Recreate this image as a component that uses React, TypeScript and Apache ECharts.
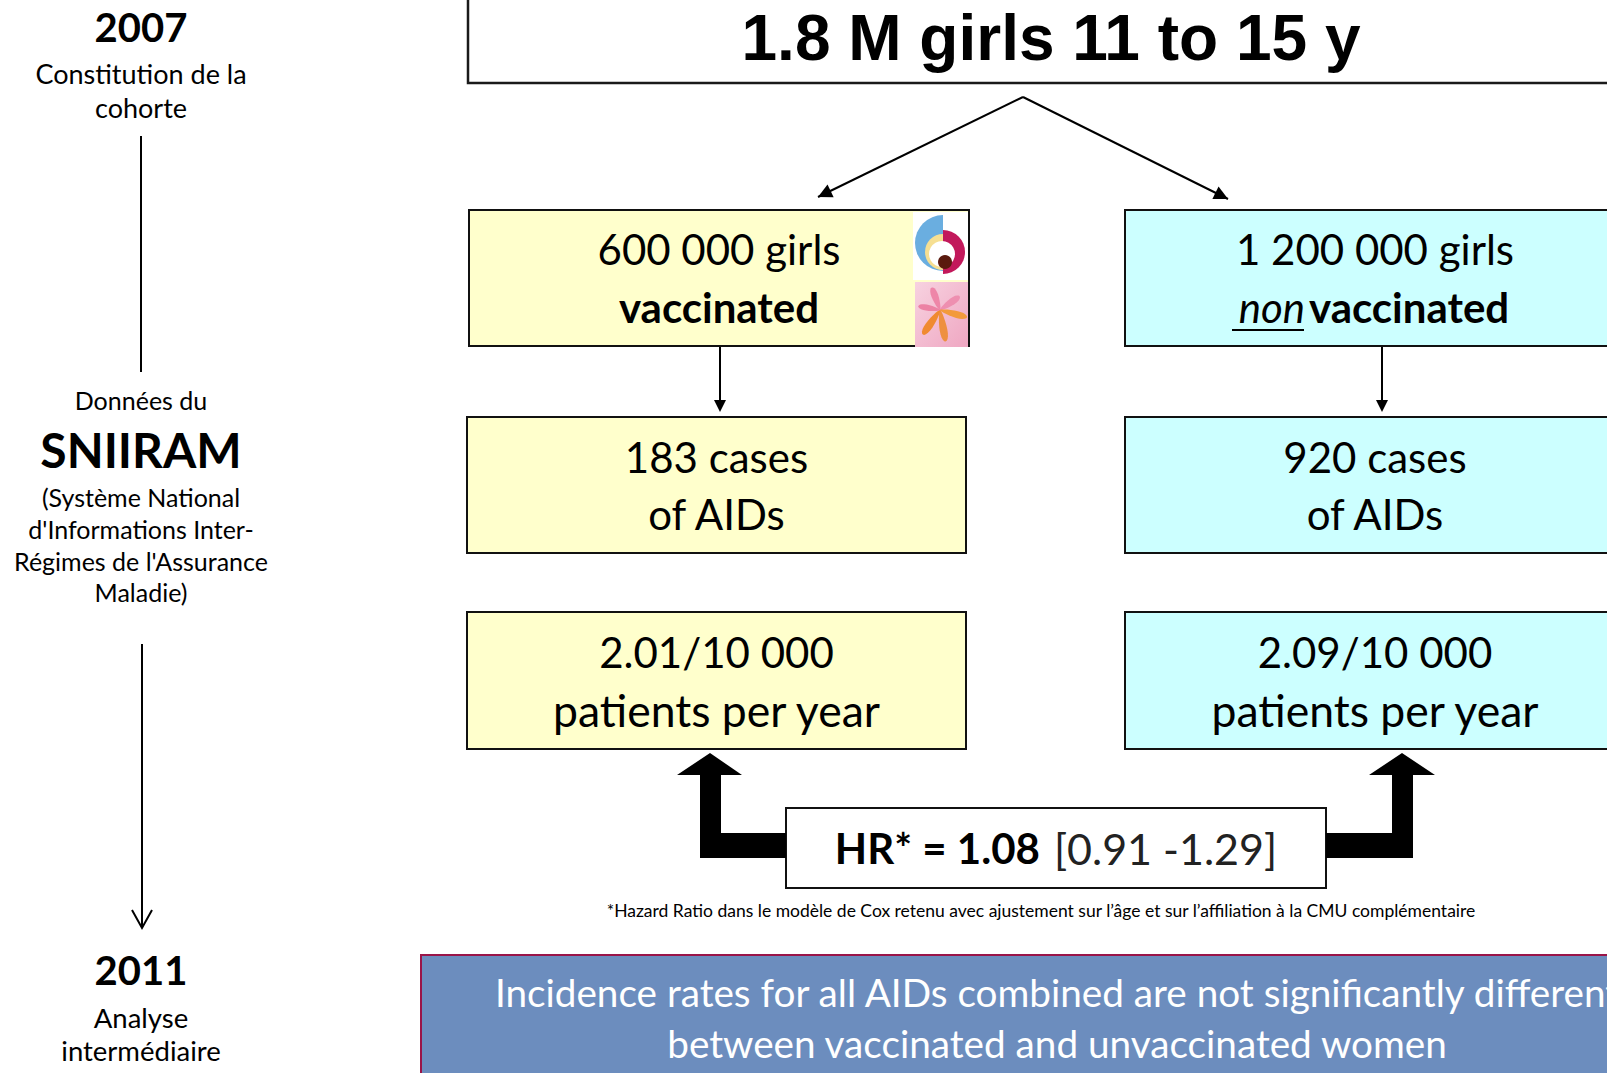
import React, { useEffect, useRef } from "react";
import * as echarts from "echarts";

// ---- content ----
const cohortTitle = "1.8 M girls 11 to 15 y";
const groupCounts = ["600 000 girls", "1 200 000 girls"];
const groupStatus = ["vaccinated", "vaccinated"];
const groupPrefix = ["", "non"];
const caseCounts = [183, 920];
const incidenceRates = ["2.01/10 000", "2.09/10 000"];
const incidenceUnit = "patients per year";
const hrValue = 1.08;
const hrCI = [0.91, 1.29];
const footnote =
  "*Hazard Ratio dans le modèle de Cox retenu avec ajustement sur l’âge et sur l’affiliation à la CMU complémentaire";
const conclusionLines = [
  "Incidence rates for all AIDs combined are not significantly different",
  "between vaccinated and unvaccinated women",
];
const timelineTop = ["2007", "Constitution de la", "cohorte"];
const timelineMid = ["Données du", "SNIIRAM", "(Système National", "d'Informations Inter-", "Régimes de l'Assurance", "Maladie)"];
const timelineBottom = ["2011", "Analyse", "intermédiaire"];

const FONT = "Lato, 'Open Sans', sans-serif";
const YELLOW = "#FFFFCC";
const CYAN = "#CCFFFF";

function headPts(tx: number, ty: number, fx: number, fy: number, len: number, half: number) {
  const dx = tx - fx, dy = ty - fy;
  const l = Math.sqrt(dx * dx + dy * dy);
  const ux = dx / l, uy = dy / l;
  const bx = tx - ux * len, by = ty - uy * len;
  return [[tx, ty], [bx - uy * half, by + ux * half], [bx + uy * half, by - ux * half]];
}

function petalPts(cx: number, cy: number, angDeg: number, len: number, wid: number) {
  const a = (angDeg * Math.PI) / 180;
  const ca = Math.cos(a), sa = Math.sin(a);
  const pts: number[][] = [];
  for (let i = 0; i <= 24; i++) {
    const t = (i / 24) * Math.PI * 2;
    const lx = len / 2 + (len / 2) * Math.cos(t);
    const taper = 0.45 + 0.55 * (lx / len);
    const ly = (wid / 2) * Math.sin(t) * taper;
    pts.push([cx + lx * ca - ly * sa, cy + lx * sa + ly * ca]);
  }
  return pts;
}

function txt(x: number, y: number, text: string, size: number, opts: any = {}) {
  return {
    type: "text",
    x,
    y,
    style: {
      text,
      fontSize: size,
      fontFamily: opts.family || FONT,
      fontWeight: opts.weight || "normal",
      fontStyle: opts.style || "normal",
      fill: opts.fill || "#000",
      textAlign: opts.align || "center",
      textVerticalAlign: "middle",
    },
    z: 10,
  };
}

function box(x: number, y: number, w: number, h: number, fill: string, stroke = "#111", lw = 2) {
  return { type: "rect", shape: { x, y, width: w, height: h }, style: { fill, stroke, lineWidth: lw }, z: 2 };
}

export default function App() {
  const ref = useRef<HTMLDivElement>(null);
  useEffect(() => {
    const chart = echarts.init(ref.current!, null, { renderer: "svg" });
    const els: any[] = [];

    // Left timeline
    const cx = 141;
    els.push(txt(cx, 27, timelineTop[0], 40, { weight: "bold" }));
    els.push(txt(cx, 73, timelineTop[1], 27));
    els.push(txt(cx, 107, timelineTop[2], 27));
    els.push({ type: "line", shape: { x1: cx, y1: 136, x2: cx, y2: 372 }, style: { stroke: "#000", lineWidth: 2 } });
    els.push(txt(cx, 400, timelineMid[0], 25));
    els.push(txt(cx, 449, timelineMid[1], 48, { weight: "bold" }));
    els.push(txt(cx, 497, timelineMid[2], 25));
    els.push(txt(cx, 529, timelineMid[3], 25));
    els.push(txt(cx, 561, timelineMid[4], 25));
    els.push(txt(cx, 592, timelineMid[5], 25));
    els.push({ type: "line", shape: { x1: cx + 1, y1: 644, x2: cx + 1, y2: 927 }, style: { stroke: "#000", lineWidth: 2 } });
    els.push({ type: "polyline", shape: { points: [[cx - 9, 910], [cx + 1, 928], [cx + 11, 910]] }, style: { stroke: "#000", lineWidth: 2, fill: "none" } });
    els.push(txt(cx, 970, timelineBottom[0], 40, { weight: "bold" }));
    els.push(txt(cx, 1017, timelineBottom[1], 27.5));
    els.push(txt(cx, 1050, timelineBottom[2], 27.5));

    // Top box
    els.push(box(468, -10, 1300, 93, "#fff", "#1a1a1a", 2.5));
    els.push(txt(1051, 38, cohortTitle, 64, { weight: "bold", family: "'Liberation Sans', Arial, sans-serif" }));

    // Split arrows
    const top = [1023, 97];
    const leftTip = [818, 197];
    const rightTip = [1228, 199];
    [leftTip, rightTip].forEach((t) => {
      els.push({ type: "line", shape: { x1: top[0], y1: top[1], x2: t[0], y2: t[1] }, style: { stroke: "#000", lineWidth: 2 } });
      els.push({ type: "polygon", shape: { points: headPts(t[0], t[1], top[0], top[1], 14, 7) }, style: { fill: "#000" } });
    });

    // Columns
    const colX = [469, 1125];
    const colW = 500;
    const fills = [YELLOW, CYAN];
    for (let i = 0; i < 2; i++) {
      const x0 = colX[i];
      const mid = x0 + colW / 2;
      els.push(box(x0, 210, colW, 136, fills[i]));
      els.push(txt(mid, 249, groupCounts[i], 42));
      if (groupPrefix[i]) {
        els.push(txt(1305, 307, groupPrefix[i], 42, { style: "italic", align: "right" }));
        els.push(txt(1309, 307, groupStatus[i], 42, { weight: "bold", align: "left" }));
        els.push({ type: "line", shape: { x1: 1232, y1: 330, x2: 1304, y2: 330 }, style: { stroke: "#000", lineWidth: 2 }, z: 11 });
      } else {
        els.push(txt(mid, 307, groupStatus[i], 42, { weight: "bold" }));
      }
      // down arrow
      const ax = i === 0 ? 720 : 1382;
      els.push({ type: "line", shape: { x1: ax, y1: 346, x2: ax, y2: 402 }, style: { stroke: "#000", lineWidth: 2 } });
      els.push({ type: "polygon", shape: { points: headPts(ax, 412, ax, 346, 12, 6) }, style: { fill: "#000" } });

      const x1 = i === 0 ? 467 : 1125;
      const m1 = x1 + (i === 0 ? 499 : 500) / 2;
      els.push(box(x1, 417, i === 0 ? 499 : 600, 136, fills[i]));
      els.push(txt(m1, 457, `${caseCounts[i]} cases`, 42));
      els.push(txt(m1, 514, "of AIDs", 42));

      els.push(box(x1, 612, i === 0 ? 499 : 600, 137, fills[i]));
      els.push(txt(m1, 652, incidenceRates[i], 42));
      els.push(txt(m1, 709, incidenceUnit, 44.5));
    }

    // Logos on vaccinated box
    els.push({ type: "rect", shape: { x: 913, y: 212, width: 55, height: 68 }, style: { fill: "#fff" }, z: 5 });
    els.push({ type: "sector", shape: { cx: 943, cy: 243, r: 28, r0: 0, startAngle: Math.PI / 2, endAngle: (3 * Math.PI) / 2, clockwise: true }, style: { fill: "#6AAEE0" }, z: 6 });
    els.push({ type: "sector", shape: { cx: 943, cy: 252, r: 18, r0: 0, startAngle: Math.PI / 2, endAngle: (3 * Math.PI) / 2, clockwise: true }, style: { fill: "#F6DF92" }, z: 7 });
    els.push({ type: "sector", shape: { cx: 943, cy: 252, r: 22, r0: 0, startAngle: -Math.PI / 2, endAngle: Math.PI / 2, clockwise: true }, style: { fill: "#C2185B" }, z: 7 });
    els.push({ type: "circle", shape: { cx: 942, cy: 254, r: 13 }, style: { fill: "#fff" }, z: 8 });
    els.push({ type: "circle", shape: { cx: 945, cy: 262, r: 7 }, style: { fill: "#5A1A0E" }, z: 9 });

    els.push({
      type: "rect",
      shape: { x: 915, y: 282, width: 53, height: 65 },
      style: {
        fill: new echarts.graphic.LinearGradient(0, 0, 1, 1, [
          { offset: 0, color: "#F7D2E0" },
          { offset: 1, color: "#EFA7C2" },
        ]),
      },
      z: 5,
    });
    const pc = [940, 310];
    const petals = [
      [-110, 24, 9, "#EE86A8"],
      [-35, 24, 9, "#EE8FB0"],
      [15, 28, 9, "#F39A3C"],
      [80, 32, 10, "#EE9040"],
      [125, 30, 10, "#F08A30"],
      [190, 22, 8, "#EC82A4"],
    ];
    petals.forEach((p: any) => {
      els.push({ type: "polygon", shape: { points: petalPts(pc[0], pc[1], p[0], p[1], p[2]) }, style: { fill: p[3] }, z: 6 });
    });

    // Elbow arrows
    els.push({
      type: "polygon",
      shape: { points: [[786, 833], [721, 833], [721, 775], [742, 775], [710, 753], [677, 775], [700, 775], [700, 858], [786, 858]] },
      style: { fill: "#000" },
      z: 3,
    });
    els.push({
      type: "polygon",
      shape: { points: [[1326, 833], [1392, 833], [1392, 775], [1369, 775], [1402, 753], [1435, 775], [1413, 775], [1413, 858], [1326, 858]] },
      style: { fill: "#000" },
      z: 3,
    });

    // HR box
    els.push(box(786, 808, 540, 80, "#fff", "#111", 2));
    els.push({
      type: "text",
      x: 1056,
      y: 848,
      z: 10,
      style: {
        text: `{b|HR* = ${hrValue.toFixed(2)}}{s| }{r|[${hrCI[0].toFixed(2)} -${hrCI[1].toFixed(2)}]}`,
        textAlign: "center",
        textVerticalAlign: "middle",
        rich: {
          b: { fontSize: 42, fontFamily: FONT, fontWeight: "bold", fill: "#000" },
          s: { fontSize: 42, fontFamily: FONT, width: 14 },
          r: { fontSize: 43, fontFamily: FONT, fontWeight: "normal", fill: "#222" },
        },
      },
    });

    els.push(txt(1041, 910, footnote, 17.5));

    // Conclusion box
    els.push(box(421, 955, 1300, 200, "#6C8DBE", "#9A1448", 2));
    els.push(txt(1057, 992, conclusionLines[0], 38.7, { fill: "#fff" }));
    els.push(txt(1057, 1043, conclusionLines[1], 38.7, { fill: "#fff" }));

    chart.setOption({
      animation: false,
      backgroundColor: "#fff",
      graphic: { elements: els },
    });
    return () => chart.dispose();
  }, []);
  return <div ref={ref} style={{ position: "fixed", left: 0, top: 0, width: 1607, height: 1073 }} />;
}
